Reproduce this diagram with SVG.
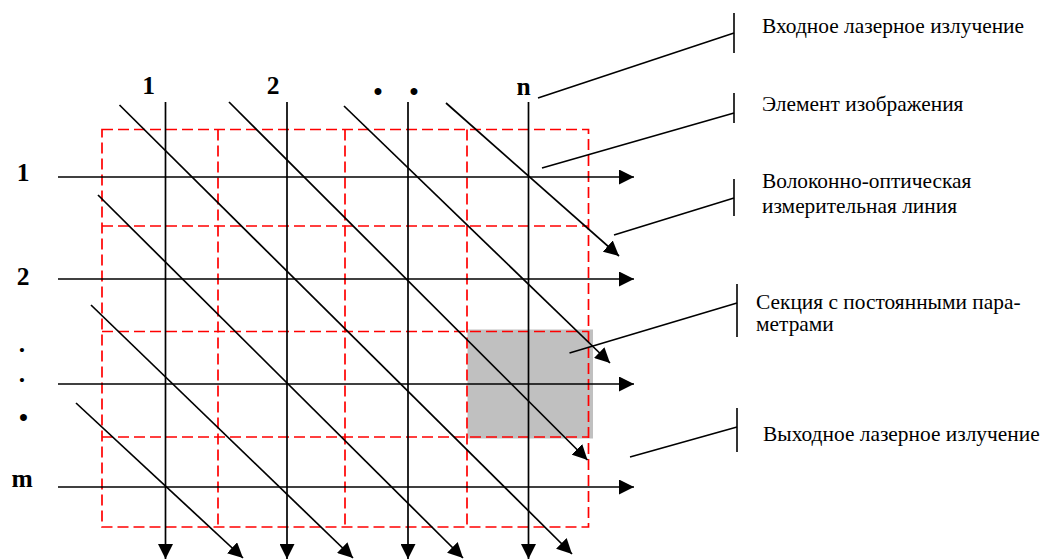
<svg xmlns="http://www.w3.org/2000/svg" width="1040" height="560" viewBox="0 0 1040 560">
<style>
.bg{fill:#ffffff}
.grid{fill:none;stroke:#ff0000;stroke-width:1.7;stroke-dasharray:11 5}
.fiber{fill:none;stroke:#000;stroke-width:1.7;marker-end:url(#ah)}
.lead{fill:none;stroke:#000;stroke-width:1.6}
.num{font-family:"Liberation Serif","Times New Roman",serif;font-weight:bold;font-size:25.5px;fill:#000;text-anchor:middle}
.lbl{font-family:"Liberation Serif","Times New Roman",serif;font-size:21.4px;fill:#000}
</style>
<defs>
<marker id="ah" markerUnits="userSpaceOnUse" markerWidth="15" markerHeight="15" viewBox="0 0 15 15" refX="15" refY="7.5" orient="auto">
<path d="M0,0 L15,7.5 L0,15 z" fill="#000"/>
</marker>
</defs>
<rect class="bg" x="0" y="0" width="1040" height="560"/>
<g id="section">
<rect x="467.5" y="329.5" width="125.5" height="109" fill="#c0c0c0"/>
</g>
<g id="pixel-grid">
<rect class="grid" x="102" y="129.5" width="486.5" height="397.5"/>
<line class="grid" x1="218" y1="129.5" x2="218" y2="527"/>
<line class="grid" x1="345" y1="129.5" x2="345" y2="527"/>
<line class="grid" x1="467" y1="129.5" x2="467" y2="527"/>
<line class="grid" x1="102" y1="226" x2="588.5" y2="226"/>
<line class="grid" x1="102" y1="331.5" x2="588.5" y2="331.5"/>
<line class="grid" x1="102" y1="437" x2="588.5" y2="437"/>
</g>
<g id="connectors">
<line class="fiber" x1="165.5" y1="102" x2="165.5" y2="559"/>
<line class="fiber" x1="287" y1="102" x2="287" y2="559"/>
<line class="fiber" x1="408" y1="102" x2="408" y2="559"/>
<line class="fiber" x1="528.5" y1="102" x2="528.5" y2="559"/>
<line class="fiber" x1="58" y1="177" x2="634" y2="177"/>
<line class="fiber" x1="58" y1="279" x2="634" y2="279"/>
<line class="fiber" x1="58" y1="384" x2="634" y2="384"/>
<line class="fiber" x1="58" y1="487" x2="634" y2="487"/>
<line class="fiber" x1="119.5" y1="105" x2="572" y2="554"/>
<line class="fiber" x1="229" y1="102" x2="587.5" y2="460"/>
<line class="fiber" x1="344" y1="106" x2="610" y2="363"/>
<line class="fiber" x1="446" y1="103" x2="619" y2="256"/>
<line class="fiber" x1="98" y1="195" x2="463" y2="558"/>
<line class="fiber" x1="91" y1="305" x2="353" y2="558"/>
<line class="fiber" x1="76" y1="403" x2="243" y2="558"/>
<line class="lead" x1="538" y1="98" x2="734" y2="33"/>
<line class="lead" x1="734" y1="13" x2="734" y2="53"/>
<line class="lead" x1="542" y1="168" x2="734" y2="113"/>
<line class="lead" x1="734" y1="93" x2="734" y2="123"/>
<line class="lead" x1="614" y1="235" x2="734" y2="198"/>
<line class="lead" x1="734" y1="179" x2="734" y2="216"/>
<line class="lead" x1="569.5" y1="353" x2="737" y2="303"/>
<line class="lead" x1="737" y1="284" x2="737" y2="337"/>
<line class="lead" x1="630" y1="457" x2="737" y2="427"/>
<line class="lead" x1="737" y1="408" x2="737" y2="452"/>
</g>
<g id="column-labels">
<text class="num" x="148.5" y="94">1</text>
<text class="num" x="273" y="94">2</text>
<text class="num" x="378" y="100">•</text>
<text class="num" x="414" y="100">•</text>
<text class="num" x="523.5" y="95">n</text>
</g>
<g id="row-labels">
<text class="num" x="23" y="181">1</text>
<text class="num" x="23" y="285">2</text>
<text class="num" x="22" y="352">.</text>
<text class="num" x="22" y="382">.</text>
<text class="num" x="23.5" y="426">•</text>
<text class="num" x="22" y="487">m</text>
</g>
<g id="label-input">
<text class="lbl" x="762" y="33">Входное лазерное излучение</text>
</g>
<g id="label-pixel">
<text class="lbl" x="762" y="111">Элемент изображения</text>
</g>
<g id="label-fiber">
<text class="lbl" x="762" y="188">Волоконно-оптическая</text>
<text class="lbl" x="762" y="213">измерительная линия</text>
</g>
<g id="label-section">
<text class="lbl" x="756" y="309">Секция с постоянными пара-</text>
<text class="lbl" x="756" y="331">метрами</text>
</g>
<g id="label-output">
<text class="lbl" x="763" y="441">Выходное лазерное излучение</text>
</g>
</svg>
